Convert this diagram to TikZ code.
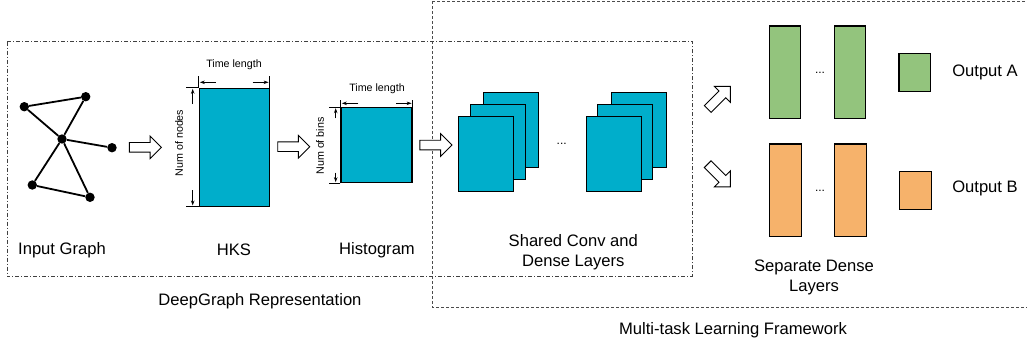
\documentclass[tikz,border=0pt]{standalone}
\usepackage{fontspec}
\setmainfont{Liberation Sans}
\usetikzlibrary{shapes.arrows,arrows.meta}
\definecolor{cyanfill}{RGB}{0,174,203}
\definecolor{greenfill}{RGB}{147,196,125}
\definecolor{orangefill}{RGB}{246,178,107}
\tikzset{
  big/.style={font=\fontsize{16.6}{20}\selectfont, inner sep=0pt, align=center},
  small/.style={font=\fontsize{10.7}{12}\selectfont, inner sep=0pt},
  dotsl/.style={font=\fontsize{12}{12}\selectfont, inner sep=0pt},
  box/.style={draw=black, line width=1.1pt, inner sep=0pt},
  cbox/.style={box, fill=cyanfill},
  gbox/.style={box, fill=greenfill},
  obox/.style={box, fill=orangefill},
  blockarrow/.style={single arrow, draw=black, fill=white, line width=0.9pt,
    minimum height=32pt, single arrow head extend=6.5pt,
    inner xsep=0pt, inner ysep=4.35pt},
  dim/.style={line width=0.8pt, -{Stealth[length=5pt,width=3.5pt]}},
  tick/.style={line width=0.8pt},
  gnode/.style={circle, fill=black, minimum size=9.4pt, inner sep=0pt},
  gedge/.style={line width=1.8pt},
}
\begin{document}
\begin{tikzpicture}[x=1pt,y=-1pt]
\clip (0,0) rectangle (1027,343);
% frames
\draw[line width=0.9pt, draw=black!70, dash pattern=on 3pt off 2pt] (432,1) rectangle (1040,307);
\draw[line width=0.8pt, draw=black!75, dash pattern=on 4pt off 2pt on 1pt off 2pt] (7,41.7) rectangle (692,276.5);

% input graph
\node[gnode] (a) at (24.3,106.7) {};
\node[gnode] (b) at (85.7,96.7) {};
\node[gnode] (c) at (62,139) {};
\node[gnode] (d) at (112,147.7) {};
\node[gnode] (e) at (32.3,185) {};
\node[gnode] (f) at (90,197.3) {};
\draw[gedge] (a) -- (b);
\draw[gedge] (a) -- (c);
\draw[gedge] (b) -- (c);
\draw[gedge] (c) -- (d);
\draw[gedge] (c) -- (e);
\draw[gedge] (c) -- (f);
\draw[gedge] (e) -- (f);

% block arrows
\node[blockarrow] (ar1) at (143,147.3) {};
\node[blockarrow] (ar2) at (291.3,146.7) {};
\node[blockarrow] (ar3) at (433.5,145) {};
\node[blockarrow, rotate=45] (ar4) at (717.3,99.4) {};
\node[blockarrow, rotate=-45] (ar5) at (717.3,173.8) {};

% HKS
\node[cbox, minimum width=70pt, minimum height=118pt] (hks) at (234.2,147.2) {};
\draw[tick] (hks.north west) -- ++(0,-11.6) coordinate (hkstl);
\draw[tick] (hks.north east) -- ++(0,-11.6) coordinate (hkstr);
\draw[dim] (215.7,82.3) -- (199.8,82.3);
\draw[dim] (252.7,82.3) -- (268.6,82.3);
\node[small] (hkstime) at (234,65) {Time length};
\draw[tick] (hks.north west) -- ++(-12.3,0);
\draw[tick] (hks.south west) -- ++(-12.3,0);
\draw[dim] (192.7,104) -- (192.7,88.8);
\draw[dim] (192.7,190) -- (192.7,205.5);
\node[small, rotate=90] (hksnodes) at (179,143) {Num of nodes};

% Histogram
\node[cbox, minimum width=71pt, minimum height=75pt] (hist) at (376.5,145.2) {};
\draw[tick] (hist.north west) -- ++(0,-7.3);
\draw[tick] (hist.north east) -- ++(0,-7.3);
\draw[dim] (358.3,103.3) -- (341.8,103.3);
\draw[dim] (396,103.3) -- (411.6,103.3);
\node[small] (histtime) at (377,89) {Time length};
\draw[tick] (hist.north west) -- ++(-11,0);
\draw[tick] (hist.south west) -- ++(-11,0);
\draw[dim] (335.7,118.3) -- (335.7,108.2);
\draw[dim] (335.7,172.5) -- (335.7,182.2);
\node[small, rotate=90] (histbins) at (320,146) {Num of bins};

% shared conv stacks
\node[cbox, minimum width=55pt, minimum height=75pt] (s1a) at (511,129.8) {};
\node[cbox, minimum width=55pt, minimum height=75pt] (s1b) at (497.7,141.8) {};
\node[cbox, minimum width=55pt, minimum height=75pt] (s1c) at (485.8,154.2) {};
\node[cbox, minimum width=55pt, minimum height=75pt] (s2a) at (638.7,129.8) {};
\node[cbox, minimum width=55pt, minimum height=75pt] (s2b) at (625.3,141.8) {};
\node[cbox, minimum width=55pt, minimum height=75pt] (s2c) at (613.8,154.2) {};
\node[dotsl] (sdots) at (561.7,144) {...};

% separate dense layers
\node[gbox, minimum width=31.4pt, minimum height=92.7pt] (g1) at (785,72.3) {};
\node[gbox, minimum width=31.4pt, minimum height=92.7pt] (g2) at (850,72.3) {};
\node[dotsl] (gdots) at (820,73) {...};
\node[gbox, minimum width=31.7pt, minimum height=38.4pt] (outa) at (914.8,72.5) {};
\node[obox, minimum width=31.4pt, minimum height=92.7pt] (o1) at (785.6,190.3) {};
\node[obox, minimum width=31.4pt, minimum height=92.7pt] (o2) at (850.6,190.3) {};
\node[dotsl] (odots) at (820,190.7) {...};
\node[obox, minimum width=31.7pt, minimum height=38pt] (outb) at (915.5,190.3) {};

% labels
\node[big] (lA) at (985,72.3) {Output A};
\node[big] (lB) at (985,188.3) {Output B};
\node[big] (lin) at (62,250) {Input Graph};
\node[big] (lhks) at (234,250) {HKS};
\node[big] (lhist) at (377,250) {Histogram};
\node[big] (ldeep) at (260,301.7) {DeepGraph Representation};
\node[big] (lshared) at (573.3,252.2) {Shared Conv and\\Dense Layers};
\node[big] (lsep) at (814,277.7) {Separate Dense\\Layers};
\node[big] (lmulti) at (733,330) {Multi-task Learning Framework};
\end{tikzpicture}
\end{document}
